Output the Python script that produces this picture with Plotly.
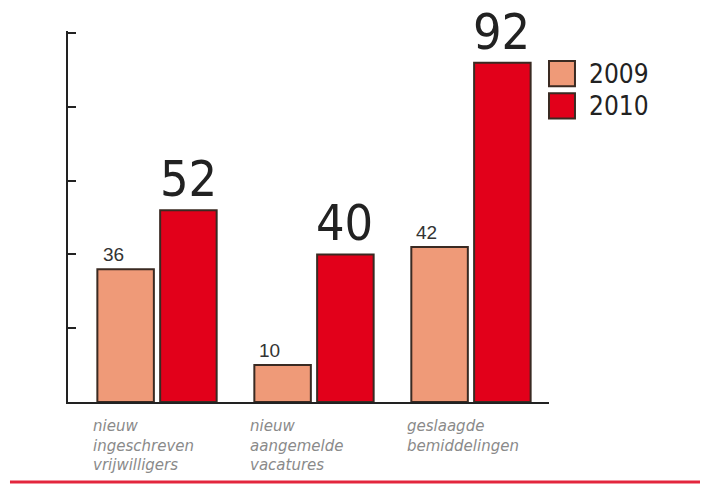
import plotly.graph_objects as go

categories = ["nieuw<br>ingeschreven<br>vrijwilligers",
              "nieuw<br>aangemelde<br>vacatures",
              "geslaagde<br>bemiddelingen"]
years = ["2009", "2010"]
values_2009 = [36, 10, 42]
values_2010 = [52, 40, 92]
y_ticks = [0, 20, 40, 60, 80, 100]

col_2009 = "#ef9a78"
col_2010 = "#e2001a"
outline = "#3a2a22"

xs = list(range(len(categories)))

fig = go.Figure()
fig.add_trace(go.Bar(x=xs, y=values_2009, name=years[0], marker=dict(color=col_2009, line=dict(color=outline, width=2))))
fig.add_trace(go.Bar(x=xs, y=values_2010, name=years[1], marker=dict(color=col_2010, line=dict(color=outline, width=2))))

ann = []
hand = "Liberation Sans Narrow, DejaVu Sans Condensed, Liberation Sans"
for i, v in enumerate(values_2009):
    ann.append(dict(x=xs[i], y=v, xref="x", yref="y", text=str(v), showarrow=False,
                    xanchor="center", yanchor="bottom", xshift=-44, yshift=2,
                    font=dict(family="Liberation Sans, Arial", size=19, color="#333")))
for i, v in enumerate(values_2010):
    ann.append(dict(x=xs[i], y=v, xref="x", yref="y", text=str(v), showarrow=False,
                    xanchor="center", yanchor="bottom", xshift=31, yshift=0,
                    font=dict(family=hand, size=50, color="#222")))
for i, c in enumerate(categories):
    ann.append(dict(x=xs[i], y=0, xref="x", yref="y", text=c, showarrow=False,
                    xanchor="left", yanchor="top", align="left", xshift=-66, yshift=-13,
                    font=dict(family="DejaVu Sans", size=15, color="#8a8a8a", style="italic")))

# custom legend
legend_rows = [(years[0], col_2009, 0.851, 0.919), (years[1], col_2010, 0.764, 0.832)]
shapes = []
for name, col, y0, y1 in legend_rows:
    shapes.append(dict(type="rect", xref="paper", yref="paper", x0=1.0, x1=1.054, y0=y0, y1=y1,
                       fillcolor=col, line=dict(color=outline, width=2)))
    ann.append(dict(x=1.079, y=(y0 + y1) / 2, xref="paper", yref="paper", text=name, showarrow=False,
                    xanchor="left", yanchor="middle",
                    font=dict(family=hand, size=26, color="#222")))

shapes.append(dict(type="line", xref="paper", yref="paper", x0=-0.1206, x1=1.34, y0=-0.2154, y1=-0.2154,
                   line=dict(color="#e3263d", width=3)))

fig.update_layout(
    width=700, height=476,
    margin=dict(l=60, r=159, t=23, b=82),
    paper_bgcolor="white", plot_bgcolor="white",
    barmode="group", bargap=0.2, bargroupgap=0.1,
    showlegend=False,
    annotations=ann, shapes=shapes,
    xaxis=dict(range=[-0.567, 2.497], showline=True, linecolor="#222", linewidth=2,
               showticklabels=False, ticks="", showgrid=False, zeroline=False, fixedrange=True),
    yaxis=dict(range=[0, 100.6], showline=True, linecolor="#222", linewidth=2,
               tickvals=y_ticks, ticks="inside", ticklen=8, tickwidth=2, tickcolor="#222",
               showticklabels=False, showgrid=False, zeroline=False, fixedrange=True),
)

fig.write_html("out.html")
